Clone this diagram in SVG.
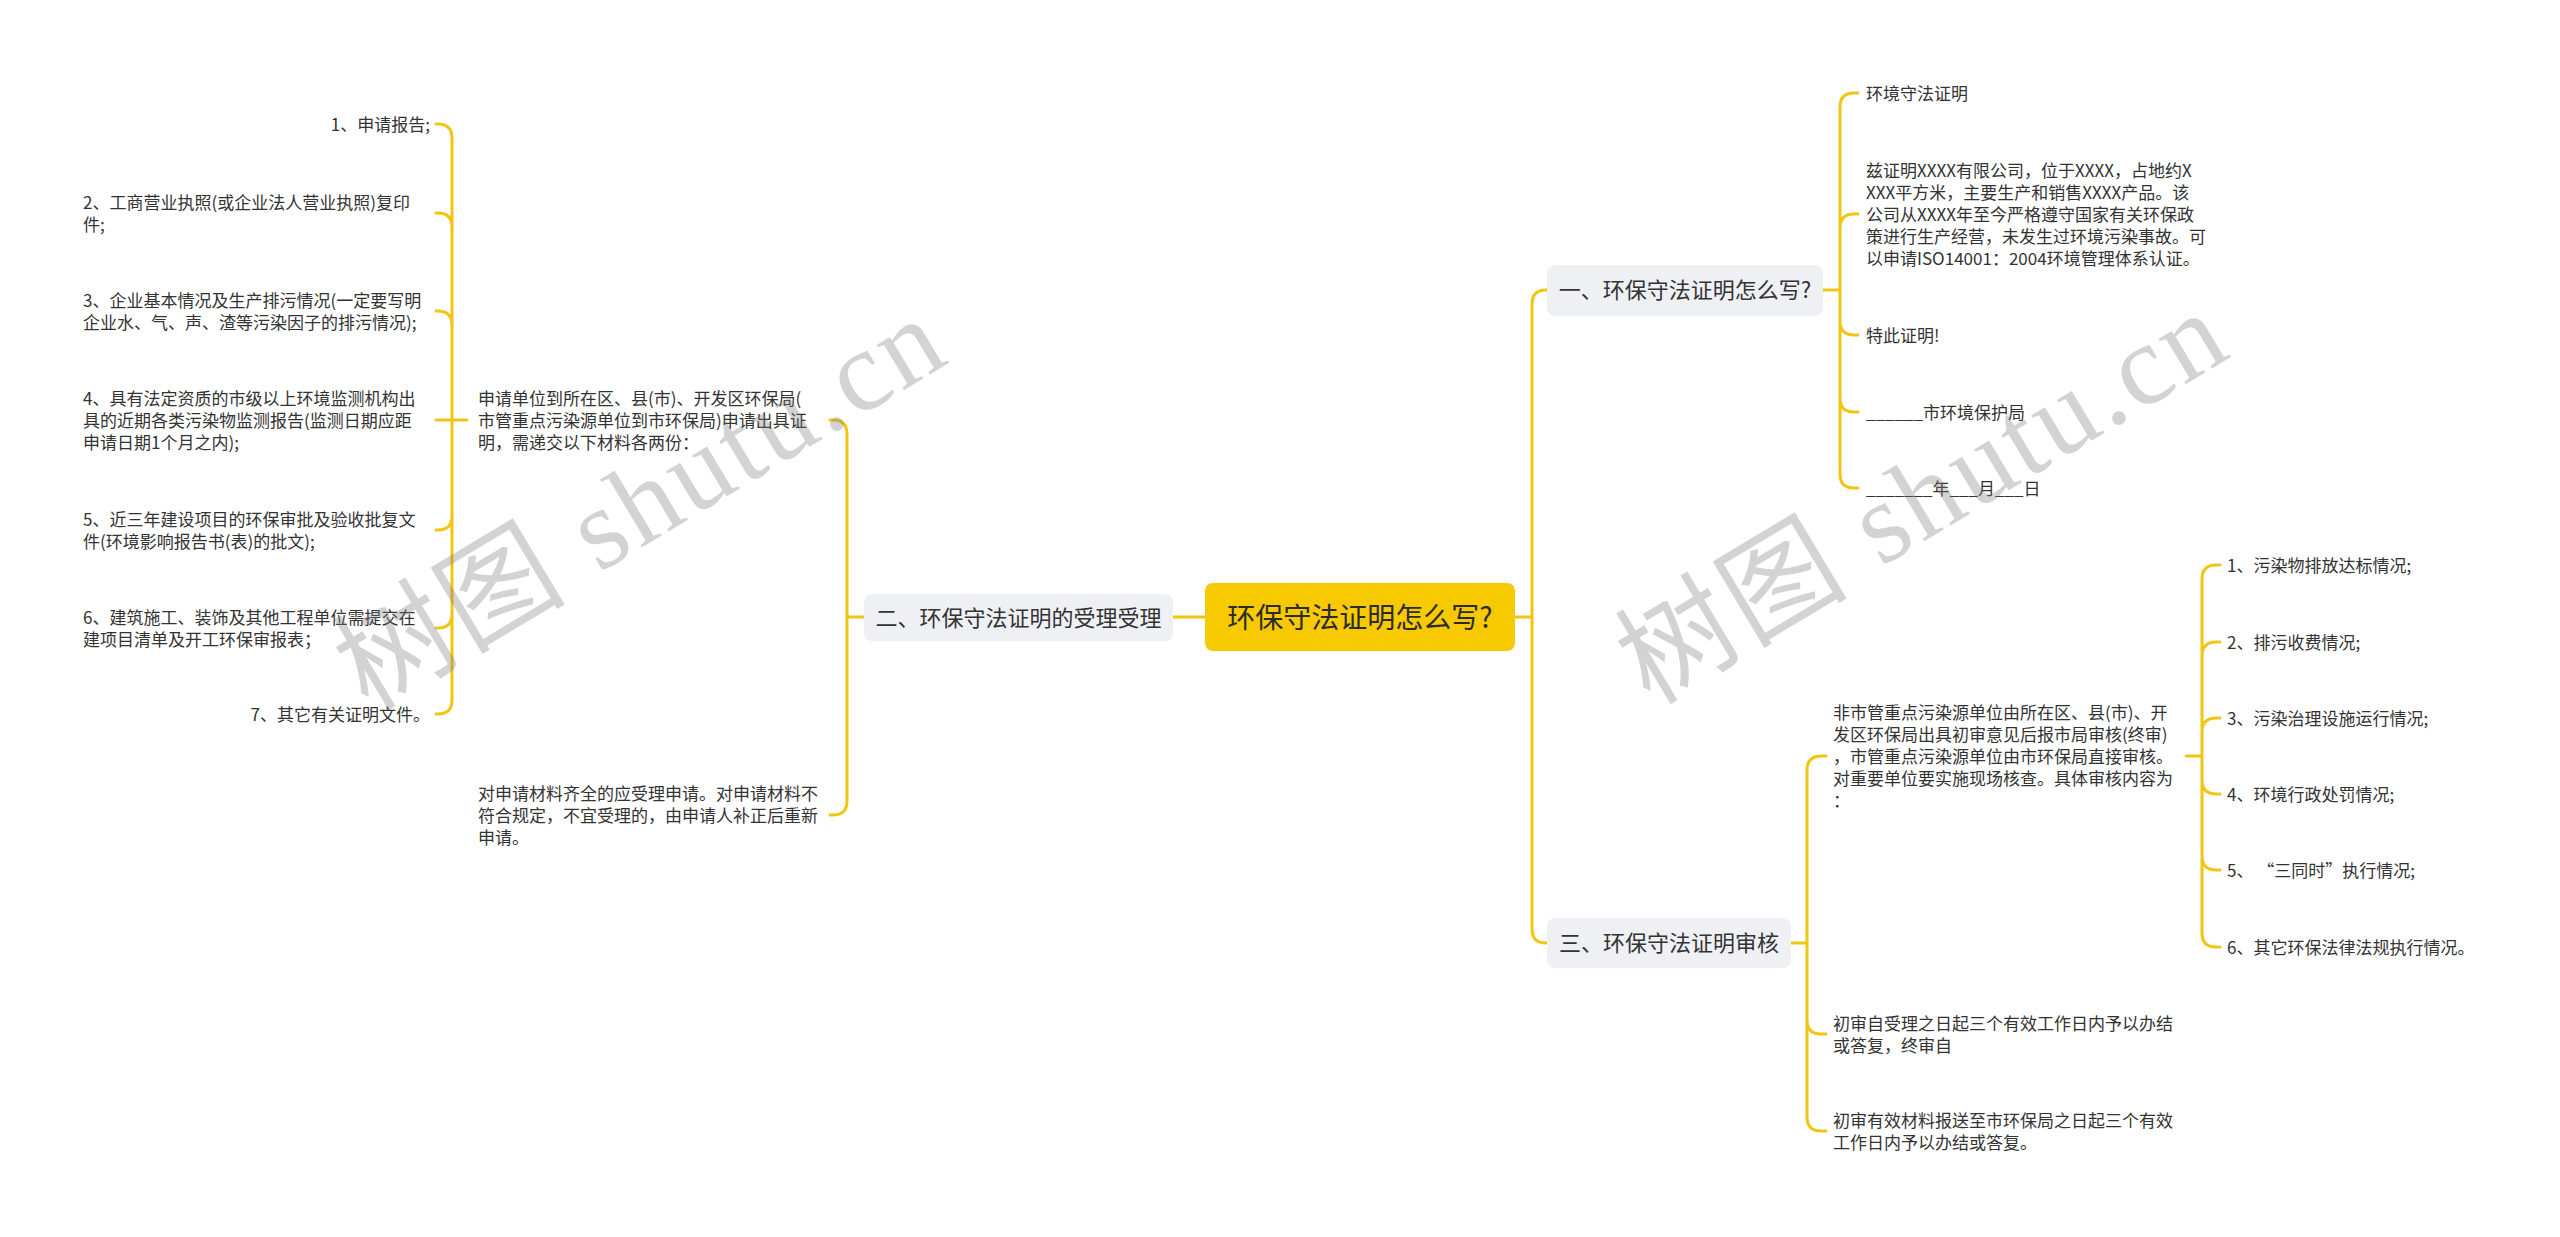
<svg xmlns="http://www.w3.org/2000/svg" width="2560" height="1237" viewBox="0 0 2560 1237">
<style>
.t{font-family:"Noto Sans CJK SC","Liberation Sans",sans-serif;font-size:17px;fill:#333333}
.n{font-family:"Noto Sans CJK SC","Liberation Sans",sans-serif;font-size:22px;fill:#333333}
.r{font-family:"Noto Sans CJK SC","Liberation Sans",sans-serif;font-size:28px;fill:#2b2b2b}
.box{fill:#eef0f3}
.c{fill:none;stroke:#f0c514;stroke-width:3;stroke-linecap:round;stroke-linejoin:round}
.wm{font-family:"Liberation Serif","Noto Sans CJK SC",serif;font-size:115px;fill:#787878;fill-opacity:0.33}
</style>
<rect width="2560" height="1237" fill="#ffffff"/>
<g id="connectors">
<path class="c" d="M1515,617 H1532 M1532,617 V304 Q1532,290 1546,290 H1547 M1532,617 V929 Q1532,943 1546,943 H1547"/>
<path class="c" d="M1823,290 H1840 M1840,290 V107 Q1840,93 1854,93 H1858 M1840,290 V228 Q1840,214 1854,214 H1858 M1840,290 V321 Q1840,335 1854,335 H1858 M1840,290 V398 Q1840,412 1854,412 H1858 M1840,290 V474 Q1840,488 1854,488 H1858"/>
<path class="c" d="M1791,943 H1807 M1807,943 V770 Q1807,756 1821,756 H1826 M1807,943 V1020 Q1807,1034 1821,1034 H1826 M1807,943 V1117 Q1807,1131 1821,1131 H1826"/>
<path class="c" d="M2186,756 H2202 M2202,756 V579 Q2202,565 2216,565 H2220 M2202,756 V656 Q2202,642 2216,642 H2220 M2202,756 V732 Q2202,718 2216,718 H2220 M2202,756 V780 Q2202,794 2216,794 H2220 M2202,756 V856 Q2202,870 2216,870 H2220 M2202,756 V933 Q2202,947 2216,947 H2220"/>
<path class="c" d="M1205,617 H1173"/>
<path class="c" d="M864,617 H847 M847,617 V434 Q847,420 833,420 H830 M847,617 V801 Q847,815 833,815 H830"/>
<path class="c" d="M467,420 H452 M452,420 V138 Q452,124 438,124 H436 M452,420 V227 Q452,213 438,213 H436 M452,420 V325 Q452,311 438,311 H436 M452,420 H436 M452,420 V516 Q452,530 438,530 H436 M452,420 V614 Q452,628 438,628 H436 M452,420 V700 Q452,714 438,714 H436"/>
</g>
<g id="root">
<rect x="1205" y="583" width="310" height="68" rx="8" fill="#f6c900"/>
<text class="r" x="1360" y="628" text-anchor="middle">环保守法证明怎么写?</text>
</g>
<g id="node-2">
<rect class="box" x="864" y="594" width="309" height="47" rx="8"/>
<text class="n" x="1018.5" y="626" text-anchor="middle">二、环保守法证明的受理受理</text>
</g>
<g id="node-2-1">
<text class="t" x="478"><tspan x="478" y="404.5">申请单位到所在区、县(市)、开发区环保局(</tspan><tspan x="478" y="426.5">市管重点污染源单位到市环保局)申请出具证</tspan><tspan x="478" y="448.5">明，需递交以下材料各两份：</tspan></text>
</g>
<g id="node-2-2">
<text class="t" x="478"><tspan x="478" y="799.5">对申请材料齐全的应受理申请。对申请材料不</tspan><tspan x="478" y="821.5">符合规定，不宜受理的，由申请人补正后重新</tspan><tspan x="478" y="843.5">申请。</tspan></text>
</g>
<g id="item-l1"><text class="t" x="430" y="131" text-anchor="end">1、申请报告;</text></g>
<g id="item-l2"><text class="t"><tspan x="83" y="208.5">2、工商营业执照(或企业法人营业执照)复印</tspan><tspan x="83" y="230.5">件;</tspan></text></g>
<g id="item-l3"><text class="t"><tspan x="83" y="306.5">3、企业基本情况及生产排污情况(一定要写明</tspan><tspan x="83" y="328.5">企业水、气、声、渣等污染因子的排污情况);</tspan></text></g>
<g id="item-l4"><text class="t"><tspan x="83" y="404.5">4、具有法定资质的市级以上环境监测机构出</tspan><tspan x="83" y="426.5">具的近期各类污染物监测报告(监测日期应距</tspan><tspan x="83" y="448.5">申请日期1个月之内);</tspan></text></g>
<g id="item-l5"><text class="t"><tspan x="83" y="525.5">5、近三年建设项目的环保审批及验收批复文</tspan><tspan x="83" y="547.5">件(环境影响报告书(表)的批文);</tspan></text></g>
<g id="item-l6"><text class="t"><tspan x="83" y="623.5">6、建筑施工、装饰及其他工程单位需提交在</tspan><tspan x="83" y="645.5">建项目清单及开工环保审报表；</tspan></text></g>
<g id="item-l7"><text class="t" x="430" y="720.5" text-anchor="end">7、其它有关证明文件。</text></g>
<g id="node-1">
<rect class="box" x="1547" y="265" width="276" height="51" rx="8"/>
<text class="n" x="1685" y="298" text-anchor="middle">一、环保守法证明怎么写?</text>
</g>
<g id="node-1-1"><text class="t" x="1866" y="99.5">环境守法证明</text></g>
<g id="node-1-2"><text class="t"><tspan x="1866" y="176.5">兹证明XXXX有限公司，位于XXXX，占地约X</tspan><tspan x="1866" y="198.5">XXX平方米，主要生产和销售XXXX产品。该</tspan><tspan x="1866" y="220.5">公司从XXXX年至今严格遵守国家有关环保政</tspan><tspan x="1866" y="242.5">策进行生产经营，未发生过环境污染事故。可</tspan><tspan x="1866" y="264.5">以申请ISO14001：2004环境管理体系认证。</tspan></text></g>
<g id="node-1-3"><text class="t" x="1866" y="341.5">特此证明!</text></g>
<g id="node-1-4"><text class="t" x="1866" y="418.5">______市环境保护局</text></g>
<g id="node-1-5"><text class="t" x="1866" y="494.5">_______年___月___日</text></g>
<g id="node-3">
<rect class="box" x="1547" y="918" width="244" height="50" rx="8"/>
<text class="n" x="1669" y="951" text-anchor="middle">三、环保守法证明审核</text>
</g>
<g id="node-3-1"><text class="t"><tspan x="1833" y="718.5">非市管重点污染源单位由所在区、县(市)、开</tspan><tspan x="1833" y="740.5">发区环保局出具初审意见后报市局审核(终审)</tspan><tspan x="1833" y="762.5">，市管重点污染源单位由市环保局直接审核。</tspan><tspan x="1833" y="784.5">对重要单位要实施现场核查。具体审核内容为</tspan><tspan x="1833" y="806.5">：</tspan></text></g>
<g id="node-3-2"><text class="t"><tspan x="1833" y="1029.5">初审自受理之日起三个有效工作日内予以办结</tspan><tspan x="1833" y="1051.5">或答复，终审自</tspan></text></g>
<g id="node-3-3"><text class="t"><tspan x="1833" y="1126.5">初审有效材料报送至市环保局之日起三个有效</tspan><tspan x="1833" y="1148.5">工作日内予以办结或答复。</tspan></text></g>
<g id="item-r1"><text class="t" x="2227" y="571.5">1、污染物排放达标情况;</text></g>
<g id="item-r2"><text class="t" x="2227" y="648.5">2、排污收费情况;</text></g>
<g id="item-r3"><text class="t" x="2227" y="724.5">3、污染治理设施运行情况;</text></g>
<g id="item-r4"><text class="t" x="2227" y="800.5">4、环境行政处罚情况;</text></g>
<g id="item-r5"><text class="t" x="2227" y="876.5">5、 “三同时”执行情况;</text></g>
<g id="item-r6"><text class="t" x="2227" y="953.5">6、其它环保法律法规执行情况。</text></g>
<g id="watermark">
<text class="wm" transform="translate(368,712) rotate(-31)" textLength="680" lengthAdjust="spacing">树图 shutu.cn</text>
<text class="wm" transform="translate(1650,706) rotate(-31)" textLength="680" lengthAdjust="spacing">树图 shutu.cn</text>
</g>
</svg>
